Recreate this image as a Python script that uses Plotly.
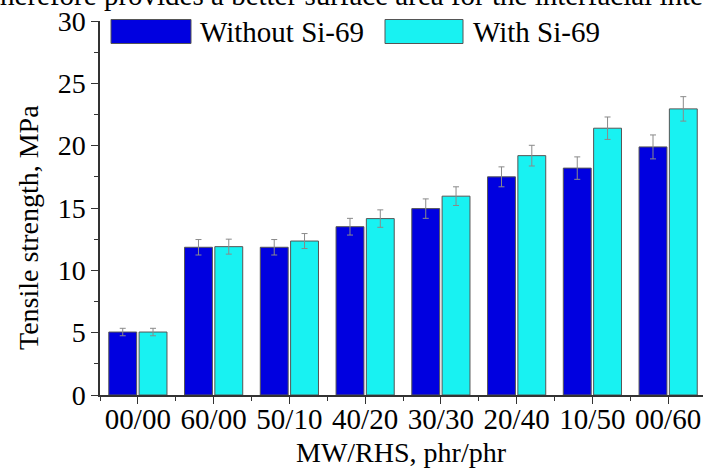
import plotly.graph_objects as go

categories = ["00/00", "60/00", "50/10", "40/20", "30/30", "20/40", "10/50", "00/60"]
without_si69 = [5.05, 11.85, 11.85, 13.5, 14.95, 17.5, 18.2, 19.9]
without_err = [0.3, 0.62, 0.62, 0.67, 0.78, 0.8, 0.9, 0.96]
with_si69 = [5.05, 11.9, 12.35, 14.15, 15.95, 19.2, 21.4, 22.95]
with_err = [0.3, 0.6, 0.6, 0.7, 0.75, 0.83, 0.9, 0.98]
series_names = ["Without Si-69", "With Si-69"]
yticks = [0, 5, 10, 15, 20, 25, 30]

W, H = 703, 470
L, R, T, B = 100, 0, 21, 75
PW, PH = W - L - R, H - T - B
FONT = "Liberation Serif, Times New Roman, serif"
BLUE = "#0000E0"
CYAN = "#18F2F2"
OUTLINE = "#555555"
AX = "#333333"

def px_x(p):
    return (p - L) / PW

def px_y(p):
    return 1 - (p - T) / PH

xpos = list(range(len(categories)))

fig = go.Figure()
for name, vals, errs, col in [
    (series_names[0], without_si69, without_err, BLUE),
    (series_names[1], with_si69, with_err, CYAN),
]:
    fig.add_trace(go.Bar(
        x=xpos, y=vals, name=name, showlegend=False,
        marker=dict(color=col, line=dict(color=OUTLINE, width=1)),
        error_y=dict(type="data", array=errs, visible=True,
                     color="#8a8a8a", thickness=1, width=3),
    ))

# custom legend (large swatches)
legend_items = [
    (111, 191, 198, series_names[0], BLUE),
    (385, 463, 471, series_names[1], CYAN),
]
for x0, x1, tx, name, col in legend_items:
    fig.add_shape(type="rect", xref="paper", yref="paper",
                  x0=px_x(x0), x1=px_x(x1), y0=px_y(43.5), y1=px_y(19.5),
                  fillcolor=col, line=dict(color=OUTLINE, width=1), layer="above")
    fig.add_annotation(xref="paper", yref="paper", x=px_x(tx), y=px_y(31.5),
                       xanchor="left", yanchor="middle", showarrow=False,
                       text=name, font=dict(family=FONT, size=29, color="black"))

# cut-off body text from the page above the figure
fig.add_annotation(xref="paper", yref="paper", x=px_x(-10), y=px_y(-5),
                   xanchor="left", yanchor="middle", showarrow=False,
                   text="therefore provides a better surface area for the interfacial interaction",
                   font=dict(family=FONT, size=29, color="black"))

# axis titles
fig.add_annotation(xref="paper", yref="paper", x=px_x(28), y=px_y(228),
                   xanchor="center", yanchor="middle", showarrow=False, textangle=-90,
                   text="Tensile strength, MPa", font=dict(family=FONT, size=28, color="black"))
fig.add_annotation(xref="paper", yref="paper", x=px_x(401), y=px_y(452),
                   xanchor="center", yanchor="middle", showarrow=False,
                   text="MW/RHS, phr/phr", font=dict(family=FONT, size=28, color="black"))

fig.update_layout(
    width=W, height=H,
    margin=dict(l=L, r=R, t=T, b=B, autoexpand=False),
    paper_bgcolor="white", plot_bgcolor="white",
    barmode="group", bargap=0.2, bargroupgap=0.08,
    font=dict(family=FONT, size=28, color="black"),
    showlegend=False,
)
fig.update_xaxes(
    range=[-0.5, 7.46], tickmode="array", tickvals=xpos, ticktext=categories,
    showline=True, linecolor=AX, linewidth=1.5,
    ticks="outside", ticklen=7, tickwidth=1.2, tickcolor=AX,
    minor=dict(tickmode="linear", tick0=-0.5, dtick=1, ticks="outside",
               ticklen=4, tickwidth=1.2, tickcolor=AX, showgrid=False),
    showgrid=False, zeroline=False, automargin=False,
    tickfont=dict(family=FONT, size=29), ticklabelstandoff=-10,
)
fig.update_yaxes(
    range=[0, 30], tickmode="array", tickvals=yticks,
    showline=True, linecolor=AX, linewidth=1.5,
    ticks="outside", ticklen=7, tickwidth=1.2, tickcolor=AX,
    minor=dict(tickmode="linear", tick0=2.5, dtick=5, ticks="outside",
               ticklen=4, tickwidth=1.2, tickcolor=AX, showgrid=False),
    showgrid=False, zeroline=False, automargin=False,
    tickfont=dict(family=FONT, size=28),
)

fig.write_html("out.html")
